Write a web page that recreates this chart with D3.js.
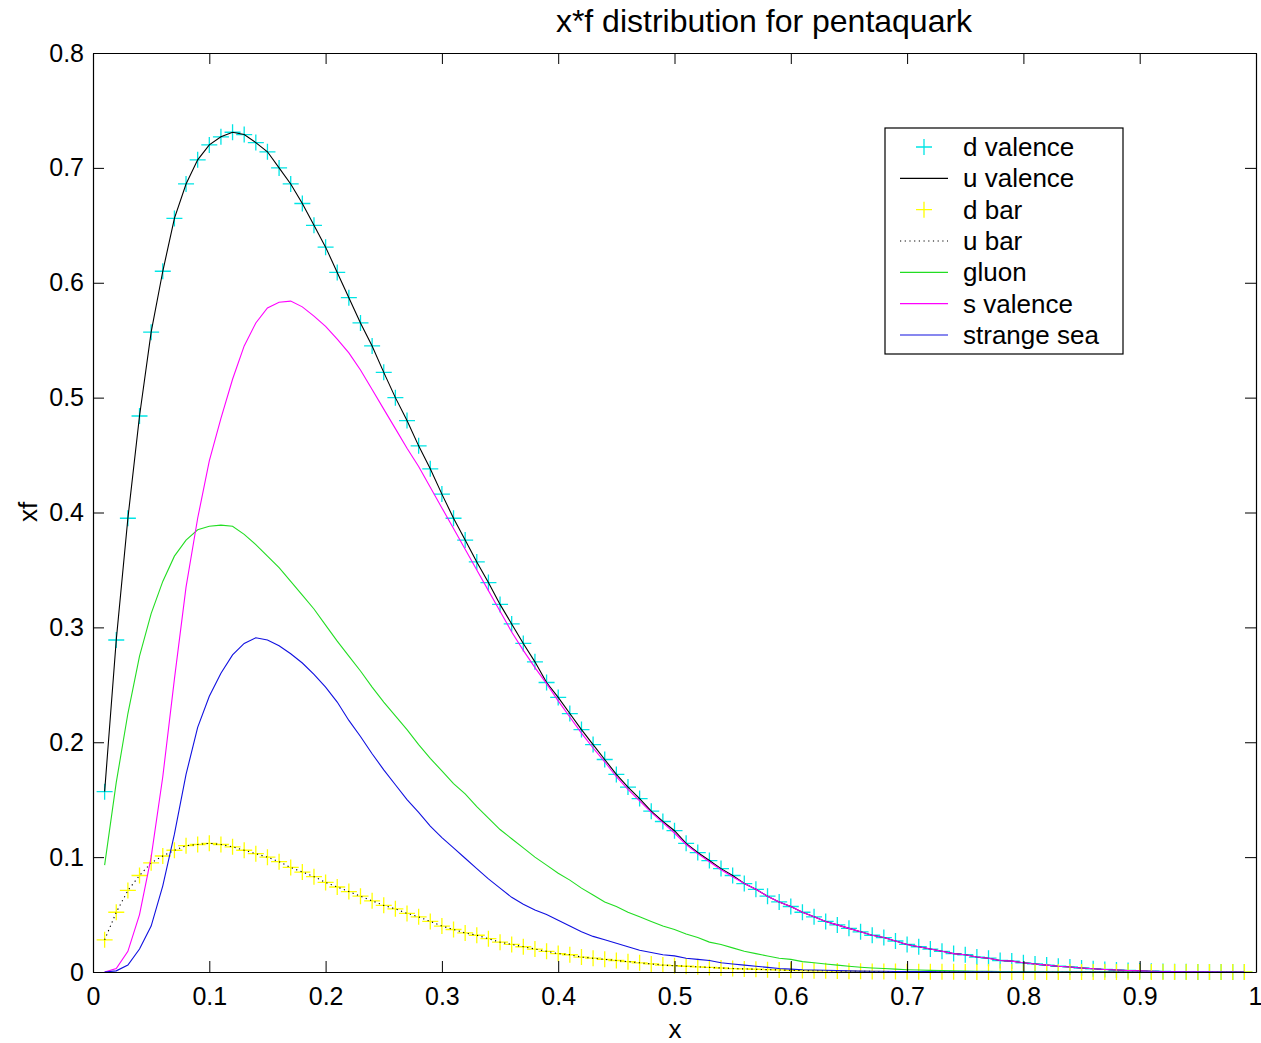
<!DOCTYPE html>
<html><head><meta charset="utf-8">
<script src="https://cdn.jsdelivr.net/npm/d3@7"></script>
<style>
html,body{margin:0;padding:0;background:#fff;}
svg{display:block;font-family:"Liberation Sans",Arial,sans-serif;}
</style></head>
<body>
<svg id="chart" width="1261" height="1043"></svg>
<script>
// ---------------- data ----------------
const xs = [0.01,0.02,0.03,0.04,0.05,0.06,0.07,0.08,0.09,0.10,0.11,0.12,0.13,0.14,0.15,0.16,0.17,0.18,0.19,0.20,
0.21,0.22,0.23,0.24,0.25,0.26,0.27,0.28,0.29,0.30,0.31,0.32,0.33,0.34,0.35,0.36,0.37,0.38,0.39,0.40,
0.41,0.42,0.43,0.44,0.45,0.46,0.47,0.48,0.49,0.50,0.51,0.52,0.53,0.54,0.55,0.56,0.57,0.58,0.59,0.60,
0.61,0.62,0.63,0.64,0.65,0.66,0.67,0.68,0.69,0.70,0.71,0.72,0.73,0.74,0.75,0.76,0.77,0.78,0.79,0.80,
0.81,0.82,0.83,0.84,0.85,0.86,0.87,0.88,0.89,0.90,0.91,0.92,0.93,0.94,0.95,0.96,0.97,0.98,0.99];

const dValence = [0.157,0.289,0.395,0.484,0.557,0.610,0.656,0.686,0.707,0.720,0.727,0.731,0.729,0.722,0.714,0.700,0.686,0.669,0.650,0.631,
0.609,0.587,0.565,0.545,0.522,0.500,0.480,0.458,0.438,0.416,0.395,0.376,0.357,0.339,0.320,0.303,0.286,0.270,0.252,0.239,
0.225,0.211,0.198,0.185,0.172,0.161,0.151,0.140,0.131,0.123,0.112,0.104,0.097,0.090,0.084,0.077,0.072,0.066,0.061,0.057,
0.052,0.048,0.044,0.041,0.038,0.035,0.032,0.030,0.027,0.024,0.022,0.020,0.018,0.016,0.015,0.013,0.012,0.010,0.0095,0.008,
0.007,0.006,0.005,0.0044,0.0035,0.0028,0.0022,0.0017,0.0013,0.001,0.0007,0.0005,0.0003,0.0002,0.0001,0.0001,0,0,0];

const uValence = [0.157,0.289,0.395,0.484,0.557,0.610,0.656,0.686,0.707,0.720,0.727,0.731,0.729,0.722,0.714,0.700,0.686,0.669,0.650,0.631,
0.609,0.587,0.565,0.545,0.522,0.500,0.480,0.458,0.438,0.416,0.395,0.376,0.357,0.339,0.320,0.303,0.286,0.270,0.252,0.239,
0.225,0.211,0.198,0.185,0.172,0.161,0.151,0.140,0.131,0.123,0.112,0.104,0.097,0.090,0.084,0.077,0.072,0.066,0.061,0.057,
0.052,0.048,0.044,0.041,0.038,0.035,0.032,0.030,0.027,0.024,0.022,0.020,0.018,0.016,0.015,0.013,0.012,0.010,0.0095,0.008,
0.007,0.006,0.005,0.0044,0.0035,0.0028,0.0022,0.0017,0.0013,0.001,0.0007,0.0005,0.0003,0.0002,0.0001,0.0001,0,0,0];

const dBar = [0.028,0.052,0.071,0.084,0.095,0.101,0.106,0.110,0.111,0.112,0.111,0.109,0.106,0.103,0.100,0.096,0.091,0.087,0.083,0.078,
0.074,0.070,0.066,0.062,0.058,0.055,0.051,0.048,0.044,0.040,0.037,0.034,0.032,0.029,0.026,0.024,0.022,0.020,0.018,0.016,
0.015,0.013,0.012,0.011,0.010,0.009,0.008,0.007,0.006,0.0055,0.005,0.0045,0.004,0.0035,0.003,0.0027,0.0024,0.002,0.0018,0.0015,
0.0013,0.0011,0.001,0.0008,0.0007,0.0006,0.0005,0.0004,0.0004,0.0003,0.0003,0.0002,0.0002,0.0002,0.0001,0.0001,0.0001,0.0001,0,0,
0,0,0,0,0,0,0,0,0,0,0,0,0,0,0,0,0,0,0];

const uBar = [0.028,0.052,0.071,0.084,0.095,0.101,0.106,0.110,0.111,0.112,0.111,0.109,0.106,0.103,0.100,0.096,0.091,0.087,0.083,0.078,
0.074,0.070,0.066,0.062,0.058,0.055,0.051,0.048,0.044,0.040,0.037,0.034,0.032,0.029,0.026,0.024,0.022,0.020,0.018,0.016,
0.015,0.013,0.012,0.011,0.010,0.009,0.008,0.007,0.006,0.0055,0.005,0.0045,0.004,0.0035,0.003,0.0027,0.0024,0.002,0.0018,0.0015,
0.0013,0.0011,0.001,0.0008,0.0007,0.0006,0.0005,0.0004,0.0004,0.0003,0.0003,0.0002,0.0002,0.0002,0.0001,0.0001,0.0001,0.0001,0,0,
0,0,0,0,0,0,0,0,0,0,0,0,0,0,0,0,0,0,0];

const gluon = [0.093,0.165,0.225,0.275,0.312,0.340,0.362,0.376,0.385,0.388,0.389,0.388,0.381,0.372,0.362,0.352,0.340,0.328,0.316,0.302,
0.288,0.275,0.262,0.248,0.235,0.223,0.211,0.198,0.186,0.175,0.164,0.155,0.144,0.134,0.124,0.116,0.108,0.100,0.093,0.086,
0.080,0.073,0.067,0.061,0.057,0.052,0.048,0.044,0.040,0.037,0.033,0.030,0.026,0.024,0.021,0.018,0.016,0.014,0.012,0.011,
0.009,0.008,0.007,0.006,0.005,0.0042,0.0035,0.003,0.0025,0.002,0.0017,0.0014,0.0012,0.001,0.0008,0.0007,0.0006,0.0005,0.0004,0.0003,
0.0003,0.0002,0.0002,0.0001,0.0001,0.0001,0.0001,0,0,0,0,0,0,0,0,0,0,0,0];

const sValence = [0.000,0.003,0.018,0.050,0.100,0.170,0.255,0.335,0.395,0.445,0.482,0.516,0.545,0.565,0.578,0.583,0.584,0.579,0.571,0.562,
0.551,0.539,0.524,0.507,0.490,0.473,0.456,0.440,0.422,0.404,0.386,0.368,0.350,0.332,0.314,0.296,0.280,0.265,0.251,0.236,
0.222,0.208,0.195,0.183,0.170,0.159,0.149,0.139,0.130,0.121,0.111,0.103,0.096,0.089,0.083,0.077,0.072,0.066,0.061,0.057,
0.052,0.048,0.044,0.041,0.038,0.035,0.032,0.030,0.027,0.024,0.022,0.020,0.018,0.016,0.015,0.013,0.012,0.010,0.0095,0.008,
0.007,0.006,0.005,0.0044,0.0035,0.0028,0.0022,0.0017,0.0013,0.001,0.0007,0.0005,0.0003,0.0002,0.0001,0.0001,0,0,0];

const strangeSea = [0.000,0.001,0.006,0.020,0.040,0.075,0.120,0.172,0.213,0.240,0.260,0.276,0.286,0.291,0.289,0.284,0.277,0.269,0.259,0.248,
0.235,0.219,0.205,0.190,0.176,0.163,0.150,0.139,0.127,0.117,0.108,0.099,0.090,0.081,0.073,0.065,0.059,0.054,0.050,0.045,
0.040,0.035,0.031,0.028,0.025,0.022,0.019,0.017,0.015,0.014,0.012,0.011,0.010,0.008,0.007,0.006,0.005,0.004,0.003,0.0025,
0.002,0.0018,0.0015,0.0012,0.001,0.0008,0.0007,0.0006,0.0005,0.0004,0.0003,0.0003,0.0002,0.0002,0.0001,0.0001,0.0001,0,0,0,
0,0,0,0,0,0,0,0,0,0,0,0,0,0,0,0,0,0,0];

const xTicks = [0,0.1,0.2,0.3,0.4,0.5,0.6,0.7,0.8,0.9,1];
const xTickLabels = ["0","0.1","0.2","0.3","0.4","0.5","0.6","0.7","0.8","0.9","1"];
const yTicks = [0,0.1,0.2,0.3,0.4,0.5,0.6,0.7,0.8];
const yTickLabels = ["0","0.1","0.2","0.3","0.4","0.5","0.6","0.7","0.8"];
const legendLabels = ["d valence","u valence","d bar","u bar","gluon","s valence","strange sea"];

// ---------------- drawing ----------------
const svg = d3.select("#chart");
const x = d3.scaleLinear().domain([0,1]).range([93,1256]);
const y = d3.scaleLinear().domain([0,0.8]).range([972,53]);

svg.append("rect").attr("width",1261).attr("height",1043).attr("fill","#fff");

const series = [
  {name:legendLabels[0], vals:dValence, type:"marker", color:"#00e5e5"},
  {name:legendLabels[1], vals:uValence, type:"line", color:"#000000"},
  {name:legendLabels[2], vals:dBar, type:"marker", color:"#ffff00"},
  {name:legendLabels[3], vals:uBar, type:"dotted", color:"#000000"},
  {name:legendLabels[4], vals:gluon, type:"line", color:"#22dd22"},
  {name:legendLabels[5], vals:sValence, type:"line", color:"#ff00ff"},
  {name:legendLabels[6], vals:strangeSea, type:"line", color:"#1010e0"}
];

const line = d3.line().x((d,i)=>x(xs[i])).y(d=>y(d));
const plus = "M-8,0H8M0,-8V8";
const plot = svg.append("g");
series.forEach(s=>{
  if (s.type==="marker") {
    plot.append("g").selectAll("path").data(s.vals).join("path")
      .attr("d",plus)
      .attr("transform",(d,i)=>`translate(${x(xs[i])},${y(d)})`)
      .attr("stroke",s.color).attr("stroke-width",1.3).attr("fill","none");
  } else {
    plot.append("path").datum(s.vals).attr("d",line)
      .attr("fill","none").attr("stroke",s.color).attr("stroke-width",1.1)
      .attr("stroke-dasharray", s.type==="dotted" ? "1.2,3.5" : null);
  }
});

// axes (box with inward ticks on all four sides)
const tickLen = 11;
const fmtX = d=>xTickLabels[xTicks.indexOf(d)];
const fmtY = d=>yTickLabels[yTicks.indexOf(d)];
const gB = svg.append("g").attr("transform","translate(0,972)")
  .call(d3.axisBottom(x).tickValues(xTicks).tickFormat(fmtX).tickSizeInner(-tickLen).tickSizeOuter(0).tickPadding(15));
const gT = svg.append("g").attr("transform","translate(0,53)")
  .call(d3.axisTop(x).tickValues(xTicks).tickFormat("").tickSizeInner(-tickLen).tickSizeOuter(0));
const gL = svg.append("g").attr("transform","translate(93,0)")
  .call(d3.axisLeft(y).tickValues(yTicks).tickFormat(fmtY).tickSizeInner(-tickLen).tickSizeOuter(0).tickPadding(9));
const gR = svg.append("g").attr("transform","translate(1256,0)")
  .call(d3.axisRight(y).tickValues(yTicks).tickFormat("").tickSizeInner(-tickLen).tickSizeOuter(0));
[gB,gT,gL,gR].forEach(g=>{
  g.selectAll(".domain").attr("stroke","#000").attr("stroke-width",1.2);
  g.selectAll(".tick line").attr("stroke","#000").attr("stroke-width",1);
  g.selectAll(".tick text").attr("font-size",25).attr("fill","#000")
    .attr("font-family","'Liberation Sans',Arial,sans-serif");
});
// keep the last x label ("1") inside the page
gB.selectAll(".tick text").filter(d=>d===1).attr("text-anchor","end").attr("dx","6");

// title and axis labels
svg.append("text").attr("x",764).attr("y",32).attr("text-anchor","middle")
  .attr("font-size",32).attr("fill","#000").text("x*f distribution for pentaquark");
svg.append("text").attr("x",675).attr("y",1038).attr("text-anchor","middle")
  .attr("font-size",26).attr("fill","#000").text("x");
svg.append("text").attr("transform","translate(37,512) rotate(-90)").attr("text-anchor","middle")
  .attr("font-size",26).attr("fill","#000").text("xf");

// legend
const lg = svg.append("g");
lg.append("rect").attr("x",885).attr("y",128).attr("width",238).attr("height",226)
  .attr("fill","#fff").attr("stroke","#000").attr("stroke-width",1.2);
const rowY = d3.scalePoint().domain(legendLabels).range([147,335]);
series.forEach(s=>{
  const cy = rowY(s.name);
  if (s.type==="marker") {
    lg.append("path").attr("d",plus).attr("transform",`translate(924,${cy})`)
      .attr("stroke",s.color).attr("stroke-width",1.3).attr("fill","none");
  } else {
    lg.append("line").attr("x1",900).attr("x2",948).attr("y1",cy).attr("y2",cy)
      .attr("stroke",s.color).attr("stroke-width",1.1)
      .attr("stroke-dasharray", s.type==="dotted" ? "1.2,3.5" : null);
  }
  lg.append("text").attr("x",963).attr("y",cy).attr("dy","0.35em")
    .attr("font-size",26).attr("fill","#000").text(s.name);
});
</script>
</body></html>
